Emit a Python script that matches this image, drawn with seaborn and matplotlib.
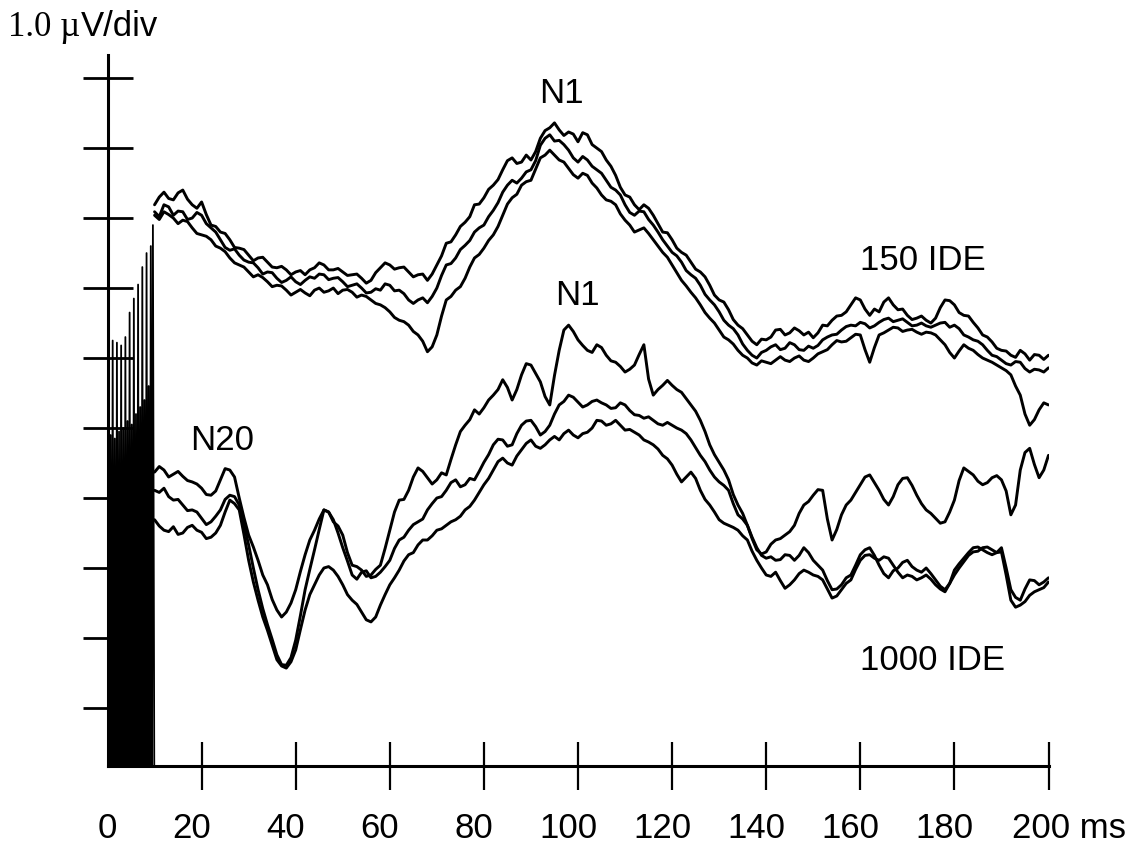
import numpy as np
import pandas as pd
import matplotlib
matplotlib.use("Agg")
import matplotlib.pyplot as plt
import matplotlib.transforms as mtransforms
import seaborn as sns

# ---------------------------------------------------------------- data
# sampling times of the averaged responses (ms), 1 ms steps from 10 to 200
time_ms = list(range(10, 201))

# 150 ms inter-stimulus interval: three averaged recordings (uV)
ide150_a = [8.19, 8.30, 8.37, 8.28, 8.26, 8.36, 8.40, 8.27, 8.19, 8.14,
            8.23, 8.05, 7.90, 7.88, 7.80, 7.78, 7.69, 7.58, 7.57, 7.55,
            7.47, 7.39, 7.43, 7.44, 7.37, 7.30, 7.29, 7.31, 7.26, 7.19,
            7.23, 7.25, 7.19, 7.26, 7.29, 7.36, 7.33, 7.26, 7.26, 7.28,
            7.23, 7.18, 7.19, 7.20, 7.14, 7.07, 7.11, 7.22, 7.29, 7.36,
            7.33, 7.27, 7.29, 7.30, 7.23, 7.16, 7.19, 7.20, 7.11, 7.20,
            7.33, 7.46, 7.64, 7.66, 7.76, 7.88, 7.94, 8.02, 8.19, 8.20,
            8.29, 8.41, 8.47, 8.55, 8.69, 8.82, 8.86, 8.78, 8.80, 8.90,
            8.83, 8.95, 9.14, 9.25, 9.29, 9.36, 9.26, 9.18, 9.23, 9.20,
            9.09, 9.22, 9.19, 9.05, 9.00, 8.95, 8.83, 8.74, 8.61, 8.44,
            8.33, 8.30, 8.19, 8.12, 8.19, 8.14, 8.04, 7.92, 7.80, 7.79,
            7.69, 7.57, 7.51, 7.47, 7.37, 7.27, 7.23, 7.16, 7.04, 6.90,
            6.83, 6.80, 6.69, 6.55, 6.47, 6.42, 6.33, 6.24, 6.19, 6.27,
            6.26, 6.30, 6.40, 6.41, 6.33, 6.36, 6.43, 6.39, 6.33, 6.37,
            6.29, 6.36, 6.47, 6.46, 6.54, 6.60, 6.61, 6.66, 6.76, 6.86,
            6.83, 6.70, 6.61, 6.70, 6.66, 6.80, 6.86, 6.76, 6.69, 6.70,
            6.61, 6.55, 6.57, 6.60, 6.54, 6.50, 6.57, 6.72, 6.83, 6.82,
            6.76, 6.65, 6.61, 6.60, 6.51, 6.43, 6.33, 6.30, 6.23, 6.14,
            6.11, 6.10, 6.04, 6.01, 6.11, 6.06, 5.97, 6.05, 6.04, 5.98,
            6.04]
ide150_b = [8.09, 8.02, 8.19, 8.16, 8.04, 8.10, 8.09, 7.98, 8.00, 8.08,
            8.04, 7.92, 7.86, 7.80, 7.69, 7.58, 7.54, 7.56, 7.47, 7.40,
            7.37, 7.36, 7.29, 7.20, 7.23, 7.22, 7.14, 7.08, 7.11, 7.16,
            7.09, 7.05, 7.11, 7.16, 7.14, 7.20, 7.19, 7.12, 7.14, 7.15,
            7.09, 7.02, 7.04, 7.06, 7.00, 6.93, 6.94, 6.99, 6.97, 7.06,
            7.04, 6.96, 6.97, 6.92, 6.83, 6.78, 6.83, 6.86, 6.79, 6.88,
            7.00, 7.18, 7.33, 7.35, 7.43, 7.55, 7.61, 7.68, 7.80, 7.86,
            7.90, 8.02, 8.11, 8.22, 8.37, 8.47, 8.54, 8.50, 8.57, 8.66,
            8.69, 8.82, 9.04, 9.14, 9.19, 9.10, 9.11, 9.05, 8.97, 8.86,
            8.80, 8.88, 8.83, 8.74, 8.69, 8.64, 8.54, 8.44, 8.40, 8.33,
            8.19, 8.08, 8.04, 8.10, 8.09, 7.98, 7.90, 7.80, 7.69, 7.60,
            7.51, 7.46, 7.37, 7.25, 7.19, 7.14, 7.04, 6.91, 6.83, 6.76,
            6.66, 6.54, 6.47, 6.42, 6.33, 6.20, 6.11, 6.04, 6.00, 6.08,
            6.11, 6.16, 6.19, 6.12, 6.14, 6.22, 6.19, 6.12, 6.11, 6.17,
            6.14, 6.18, 6.26, 6.30, 6.33, 6.34, 6.40, 6.45, 6.47, 6.46,
            6.51, 6.49, 6.43, 6.46, 6.51, 6.55, 6.57, 6.52, 6.54, 6.56,
            6.51, 6.46, 6.47, 6.50, 6.46, 6.44, 6.47, 6.50, 6.51, 6.44,
            6.47, 6.42, 6.33, 6.30, 6.26, 6.24, 6.19, 6.11, 6.04, 6.02,
            5.97, 5.92, 5.90, 5.95, 5.94, 5.85, 5.80, 5.84, 5.83, 5.80,
            5.86]
ide150_c = [8.04, 7.98, 8.09, 8.05, 8.00, 7.92, 7.97, 7.95, 7.86, 7.78,
            7.76, 7.74, 7.69, 7.60, 7.57, 7.52, 7.43, 7.36, 7.33, 7.30,
            7.23, 7.16, 7.19, 7.15, 7.09, 7.02, 7.04, 7.03, 6.97, 6.90,
            6.94, 6.98, 6.93, 6.89, 6.97, 7.00, 6.94, 6.96, 7.00, 6.92,
            6.97, 6.98, 6.94, 6.87, 6.90, 6.88, 6.83, 6.78, 6.76, 6.72,
            6.66, 6.58, 6.54, 6.52, 6.47, 6.38, 6.33, 6.24, 6.09, 6.16,
            6.33, 6.60, 6.83, 6.88, 6.97, 7.02, 7.14, 7.30, 7.43, 7.48,
            7.57, 7.68, 7.76, 7.88, 8.04, 8.20, 8.29, 8.34, 8.47, 8.52,
            8.54, 8.70, 8.86, 8.90, 8.97, 8.90, 8.83, 8.80, 8.71, 8.62,
            8.57, 8.64, 8.61, 8.50, 8.43, 8.33, 8.26, 8.24, 8.19, 8.06,
            7.97, 7.90, 7.80, 7.83, 7.86, 7.78, 7.69, 7.60, 7.51, 7.44,
            7.33, 7.22, 7.11, 7.03, 6.94, 6.86, 6.76, 6.65, 6.57, 6.50,
            6.40, 6.30, 6.26, 6.20, 6.11, 6.04, 6.00, 5.93, 5.90, 5.96,
            5.94, 5.92, 5.97, 6.02, 5.97, 5.95, 6.00, 6.03, 5.97, 5.95,
            6.00, 6.06, 6.09, 6.12, 6.19, 6.25, 6.23, 6.24, 6.29, 6.34,
            6.33, 6.12, 5.94, 6.15, 6.33, 6.36, 6.40, 6.44, 6.43, 6.38,
            6.40, 6.41, 6.37, 6.34, 6.37, 6.36, 6.33, 6.26, 6.19, 6.08,
            6.00, 6.10, 6.19, 6.14, 6.11, 6.05, 6.00, 5.97, 5.94, 5.90,
            5.86, 5.82, 5.76, 5.60, 5.47, 5.20, 5.04, 5.12, 5.26, 5.36,
            5.33]

# 1000 ms inter-stimulus interval: three averaged recordings (uV)
ide1000_a = [4.37, 4.45, 4.40, 4.30, 4.34, 4.38, 4.31, 4.25, 4.23, 4.20,
             4.14, 4.05, 4.04, 4.10, 4.26, 4.42, 4.40, 4.30, 4.00, 3.72,
             3.47, 3.30, 3.11, 2.90, 2.76, 2.55, 2.40, 2.30, 2.37, 2.50,
             2.69, 2.95, 3.19, 3.40, 3.54, 3.70, 3.83, 3.80, 3.66, 3.60,
             3.47, 3.22, 3.04, 3.02, 2.97, 2.88, 2.90, 2.98, 3.04, 3.28,
             3.54, 3.80, 3.97, 3.98, 4.11, 4.30, 4.43, 4.38, 4.29, 4.20,
             4.26, 4.36, 4.33, 4.55, 4.76, 4.95, 5.04, 5.12, 5.26, 5.20,
             5.29, 5.40, 5.47, 5.55, 5.69, 5.58, 5.40, 5.55, 5.76, 5.92,
             5.90, 5.78, 5.66, 5.45, 5.33, 5.75, 6.11, 6.40, 6.47, 6.38,
             6.26, 6.18, 6.11, 6.08, 6.19, 6.15, 6.04, 5.96, 5.94, 5.88,
             5.80, 5.84, 5.90, 6.05, 6.19, 5.70, 5.47, 5.55, 5.61, 5.68,
             5.61, 5.55, 5.51, 5.42, 5.33, 5.24, 5.11, 4.95, 4.76, 4.62,
             4.51, 4.40, 4.26, 4.05, 3.90, 3.78, 3.61, 3.42, 3.26, 3.20,
             3.23, 3.34, 3.40, 3.42, 3.47, 3.52, 3.61, 3.78, 3.90, 3.95,
             4.04, 4.12, 4.11, 3.70, 3.40, 3.55, 3.76, 3.90, 3.97, 4.08,
             4.19, 4.30, 4.33, 4.22, 4.11, 3.98, 3.90, 4.02, 4.19, 4.28,
             4.29, 4.18, 4.04, 3.92, 3.83, 3.78, 3.71, 3.64, 3.66, 3.80,
             3.97, 4.25, 4.43, 4.38, 4.33, 4.24, 4.19, 4.22, 4.29, 4.32,
             4.26, 4.10, 3.76, 3.90, 4.40, 4.65, 4.71, 4.48, 4.29, 4.40,
             4.61]
ide1000_b = [4.11, 4.08, 4.14, 4.02, 3.97, 3.98, 3.90, 3.82, 3.83, 3.80,
             3.71, 3.62, 3.66, 3.74, 3.83, 3.98, 4.04, 4.02, 3.90, 3.62,
             3.33, 3.00, 2.69, 2.42, 2.19, 1.98, 1.76, 1.62, 1.61, 1.72,
             1.97, 2.32, 2.69, 2.98, 3.26, 3.55, 3.83, 3.80, 3.69, 3.50,
             3.29, 3.10, 2.90, 2.84, 2.94, 2.96, 2.86, 2.88, 2.94, 3.02,
             3.11, 3.28, 3.40, 3.44, 3.54, 3.62, 3.66, 3.70, 3.83, 3.92,
             4.00, 4.02, 4.11, 4.22, 4.26, 4.16, 4.19, 4.28, 4.26, 4.38,
             4.51, 4.62, 4.76, 4.84, 4.83, 4.74, 4.76, 4.92, 5.04, 5.10,
             5.11, 5.02, 4.90, 4.95, 5.04, 5.20, 5.33, 5.38, 5.47, 5.44,
             5.37, 5.30, 5.33, 5.38, 5.40, 5.36, 5.33, 5.28, 5.29, 5.36,
             5.33, 5.25, 5.19, 5.18, 5.14, 5.16, 5.11, 5.06, 5.04, 5.08,
             5.04, 5.00, 4.97, 4.92, 4.83, 4.72, 4.61, 4.52, 4.40, 4.30,
             4.23, 4.18, 4.11, 3.92, 3.76, 3.70, 3.61, 3.44, 3.29, 3.18,
             3.14, 3.16, 3.11, 3.12, 3.19, 3.18, 3.11, 3.18, 3.29, 3.22,
             3.11, 3.04, 2.97, 2.82, 2.69, 2.70, 2.76, 2.86, 2.90, 3.04,
             3.19, 3.26, 3.29, 3.18, 3.04, 2.92, 2.86, 2.96, 3.00, 3.08,
             3.11, 3.02, 2.97, 2.94, 3.00, 2.92, 2.83, 2.74, 2.69, 2.78,
             2.90, 3.00, 3.09, 3.18, 3.23, 3.24, 3.29, 3.30, 3.26, 3.22,
             3.29, 3.00, 2.69, 2.58, 2.54, 2.70, 2.83, 2.82, 2.76, 2.80,
             2.86]
ide1000_c = [3.69, 3.60, 3.54, 3.52, 3.59, 3.48, 3.50, 3.58, 3.61, 3.54,
             3.51, 3.42, 3.44, 3.50, 3.61, 3.80, 3.97, 3.92, 3.83, 3.48,
             3.11, 2.80, 2.54, 2.30, 2.11, 1.90, 1.69, 1.60, 1.57, 1.66,
             1.83, 2.12, 2.40, 2.62, 2.76, 2.90, 3.00, 3.02, 2.97, 2.88,
             2.76, 2.62, 2.54, 2.48, 2.37, 2.26, 2.23, 2.30, 2.47, 2.62,
             2.76, 2.86, 2.97, 3.10, 3.19, 3.22, 3.33, 3.40, 3.40, 3.46,
             3.54, 3.56, 3.61, 3.66, 3.69, 3.74, 3.83, 3.88, 3.97, 4.08,
             4.19, 4.28, 4.40, 4.52, 4.57, 4.50, 4.47, 4.60, 4.69, 4.78,
             4.83, 4.74, 4.71, 4.76, 4.83, 4.88, 4.83, 4.92, 4.97, 4.90,
             4.86, 4.92, 4.94, 5.00, 5.11, 5.10, 5.04, 5.06, 5.11, 5.04,
             4.97, 4.98, 4.94, 4.90, 4.83, 4.80, 4.76, 4.70, 4.61, 4.56,
             4.47, 4.34, 4.23, 4.30, 4.37, 4.28, 4.11, 3.98, 3.90, 3.80,
             3.69, 3.64, 3.61, 3.58, 3.54, 3.46, 3.40, 3.24, 3.11, 3.00,
             2.90, 2.88, 2.94, 2.82, 2.71, 2.76, 2.83, 2.92, 2.97, 2.94,
             2.90, 2.88, 2.83, 2.70, 2.57, 2.60, 2.69, 2.78, 2.83, 2.98,
             3.11, 3.18, 3.19, 3.14, 3.11, 3.16, 3.14, 3.04, 2.94, 2.86,
             2.90, 2.88, 2.83, 2.86, 2.90, 2.84, 2.76, 2.70, 2.66, 2.78,
             2.97, 3.06, 3.14, 3.22, 3.29, 3.30, 3.26, 3.22, 3.19, 3.22,
             3.23, 2.90, 2.54, 2.44, 2.47, 2.52, 2.61, 2.66, 2.69, 2.72,
             2.80]

# stimulus artifact in the first 10 ms: peak times (ms) and peak heights (uV)
artifact_peak_ms = [0.2, 0.65, 1.1, 1.55, 2.0, 2.45, 2.9, 3.35, 3.8, 4.25, 4.7,
                    5.15, 5.6, 6.05, 6.5, 6.95, 7.4, 7.85, 8.3, 8.75, 9.2, 9.65]
artifact_peak_uv = [6.20, 4.90, 6.25, 4.85, 6.22, 4.95, 6.18, 5.00, 6.30, 5.10,
                    6.65, 5.05, 6.85, 5.20, 7.05, 5.30, 7.30, 5.40, 7.50, 5.60,
                    7.60, 7.90]
artifact_floor_uv = -1.5

x_ticks = [20, 40, 60, 80, 100, 120, 140, 160, 180, 200]
x_tick_labels = ["0", "20", "40", "60", "80", "100", "120", "140", "160", "180"]
y_ticks = [1, 2, 3, 4, 5, 6, 7, 8, 9, 10]

traces = {
    "150 IDE a": ide150_a, "150 IDE b": ide150_b, "150 IDE c": ide150_c,
    "1000 IDE a": ide1000_a, "1000 IDE b": ide1000_b, "1000 IDE c": ide1000_c,
}
frames = [pd.DataFrame({"ms": time_ms, "uV": v, "rec": k}) for k, v in traces.items()]
df = pd.concat(frames, ignore_index=True)

# artifact as a zigzag between the peaks and the floor
art_t, art_v = [0.0], [artifact_floor_uv]
for i, (pt, pv) in enumerate(zip(artifact_peak_ms, artifact_peak_uv)):
    art_t.append(pt)
    art_v.append(pv)
    last = i + 1 == len(artifact_peak_ms)
    art_t.append(10.0 if last else (pt + artifact_peak_ms[i + 1]) / 2)
    art_v.append(artifact_floor_uv)
art = pd.DataFrame({"ms": art_t, "uV": art_v})

# ---------------------------------------------------------------- figure
sns.set_theme(style="white")
plt.rcParams["font.family"] = ["Liberation Sans", "DejaVu Sans"]
plt.rcParams["text.color"] = "black"

W, H = 1135, 843
fig = plt.figure(figsize=(W / 100, H / 100), dpi=100)
ax = fig.add_axes([107.5 / W, 77 / H, 941 / W, 711 / H])

sns.lineplot(data=df, x="ms", y="uV", units="rec", estimator=None,
             color="black", linewidth=2.1, ax=ax, legend=False)
sns.lineplot(data=art, x="ms", y="uV", estimator=None, sort=False,
             color="black", linewidth=1.3, ax=ax, legend=False)

ax.set_xlim(0, 200)
ax.set_ylim(0.171, 10.33)
ax.set_xlabel("")
ax.set_ylabel("")

for side in ("top", "right"):
    ax.spines[side].set_visible(False)
for side in ("left", "bottom"):
    ax.spines[side].set_color("black")
    ax.spines[side].set_linewidth(2.2)

ax.set_xticks(x_ticks)
ax.set_yticks(y_ticks)
ax.tick_params(axis="x", bottom=True, direction="inout", length=34.6, width=1.6,
               color="black", labelbottom=False)
ax.tick_params(axis="y", left=True, direction="inout", length=36.7, width=2.0,
               color="black", labelleft=False)

# time labels under the axis
lab_tr = mtransforms.blended_transform_factory(ax.transData, fig.transFigure)
for i, lab in enumerate(x_tick_labels):
    pos = 20 * i
    dx = 0 if pos == 0 else -10
    ax.text(pos, 5 / H, lab, fontsize=25, ha="center", va="baseline", color="black",
            transform=lab_tr + mtransforms.ScaledTranslation(dx / 100, 0, fig.dpi_scale_trans))
ax.text(200, 5 / H, "200 ms", fontsize=25, ha="left", va="baseline", color="black",
        transform=lab_tr + mtransforms.ScaledTranslation(-36.8 / 100, 0, fig.dpi_scale_trans))

# component and condition labels
ax.text(96.4, 9.64, "N1", fontsize=25, ha="center", va="baseline", color="black")
ax.text(173.3, 7.26, "150 IDE", fontsize=25, ha="center", va="baseline", color="black")
ax.text(99.8, 6.76, "N1", fontsize=25, ha="center", va="baseline", color="black")
ax.text(24.3, 4.69, "N20", fontsize=25, ha="center", va="baseline", color="black")
ax.text(175.4, 1.54, "1000 IDE", fontsize=25, ha="center", va="baseline", color="black")

# amplitude scale: serif number and mu, sans-serif unit right after it
scale_num = fig.text(8 / W, 1 - 36 / H, "1.0 \u00b5", fontsize=25,
                     family="Liberation Serif", ha="left", va="baseline", color="black")
fig.canvas.draw()
bb = scale_num.get_window_extent(fig.canvas.get_renderer())
fig.text(bb.x1 / W + 1 / W, 1 - 36 / H, "V/div", fontsize=25, ha="left",
         va="baseline", color="black")

fig.savefig("out.png", dpi=100, facecolor="white")
